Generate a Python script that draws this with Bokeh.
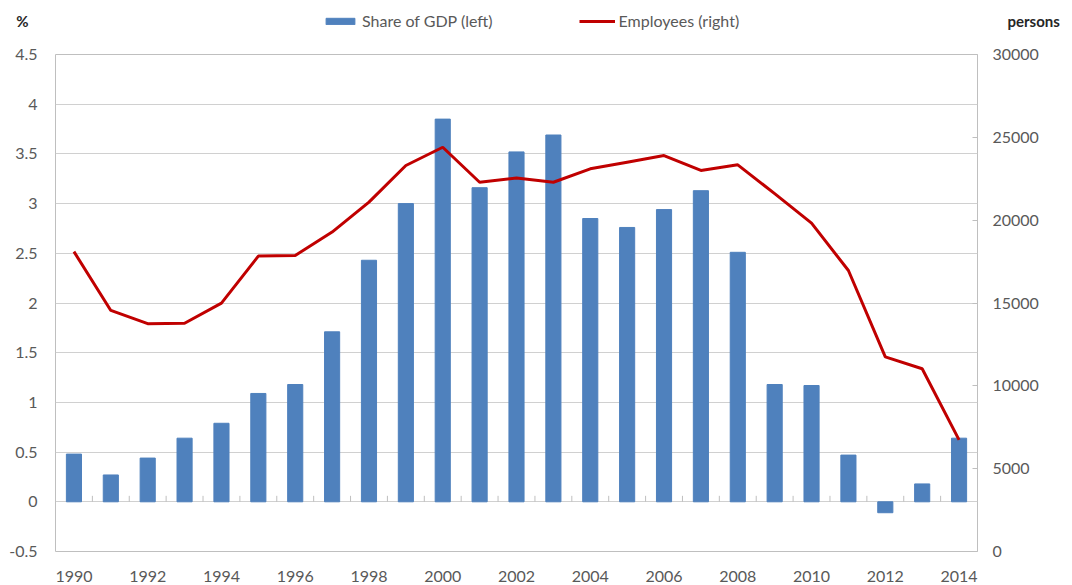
from bokeh.plotting import figure
from bokeh.layouts import column
from bokeh.models import (Range1d, LinearAxis, FixedTicker, NumeralTickFormatter,
                          Legend, LegendItem, ColumnDataSource)
from bokeh.embed import file_html
from bokeh.resources import INLINE

years = list(range(1990, 2015))
share_gdp = [0.48, 0.27, 0.44, 0.64, 0.79, 1.09, 1.18, 1.71, 2.43, 3.00,
             3.85, 3.16, 3.52, 3.69, 2.85, 2.76, 2.94, 3.13, 2.51, 1.18,
             1.17, 0.47, -0.11, 0.18, 0.64]
employees = [18100, 14550, 13750, 13780, 14990, 17830, 17870, 19280, 21090, 23300,
             24400, 22290, 22540, 22290, 23100, 23500, 23900, 23000, 23340, 21600,
             19820, 16960, 11750, 11030, 6740]
left_ticks = [-0.5, 0, 0.5, 1, 1.5, 2, 2.5, 3, 3.5, 4, 4.5]
right_ticks = [0, 5000, 10000, 15000, 20000, 25000, 30000]
year_ticks = list(range(1990, 2015, 2))

FONT = "Lato"
TXT = "#595959"
BLUE = "#4F81BD"
RED = "#C00000"
W = 1072
HEAD_H = 40
FL, FR = 55, 95   # frame borders left/right

# ---------------- header (legend + unit labels) ----------------
h = figure(width=W, height=HEAD_H, output_backend="svg", toolbar_location=None,
           x_range=Range1d(0, 1), y_range=Range1d(0, 1),
           x_axis_type=None, y_axis_type=None,
           min_border_left=FL, min_border_right=FR, min_border_top=0, min_border_bottom=0)
h.outline_line_color = None
h.grid.grid_line_color = None
dummy = ColumnDataSource(dict(x=[-10, -11], y=[-10, -11]))
lb = h.vbar(x="x", top="y", width=1, source=dummy, fill_color=BLUE, line_color=BLUE)
ll = h.line(x="x", y="y", source=dummy, line_color=RED, line_width=3)
legend = Legend(items=[LegendItem(label="Share of GDP (left)", renderers=[lb]),
                       LegendItem(label="Employees (right)", renderers=[ll])],
                orientation="horizontal", location=(322 - FL, 10),
                glyph_width=36, glyph_height=8, label_standoff=4, spacing=86,
                padding=0, margin=0, border_line_color=None,
                background_fill_alpha=0, label_text_font=FONT,
                label_text_font_size="16px", label_text_color=TXT)
h.add_layout(legend, "center")


def unit_axis(label, standoff):
    ax = LinearAxis(ticker=FixedTicker(ticks=[]), axis_label=label,
                    axis_label_orientation="horizontal",
                    axis_label_standoff=standoff)
    ax.axis_line_color = None
    ax.major_tick_line_color = None
    ax.minor_tick_line_color = None
    ax.axis_label_text_font = FONT
    ax.axis_label_text_font_size = "15px"
    ax.axis_label_text_font_style = "bold"
    ax.axis_label_text_color = "#262626"
    return ax


h.add_layout(unit_axis("%", 27), "left")
h.add_layout(unit_axis("persons", 30), "right")

# ---------------- main chart ----------------
src = ColumnDataSource(dict(year=years, share=share_gdp, emp=employees,
                            x0=[y - 0.5 for y in years], zero=[0] * len(years),
                            tick=[0.06] * len(years)))

p = figure(width=W, height=585 - HEAD_H, output_backend="svg", toolbar_location=None,
           x_range=Range1d(1989.5, 2014.5), y_range=Range1d(-0.5, 4.5),
           min_border_left=FL, min_border_right=FR, min_border_top=14,
           min_border_bottom=34)
p.extra_y_ranges = {"right": Range1d(0, 30000)}

p.outline_line_color = "#bfbfbf"
p.outline_line_width = 1

p.xgrid.grid_line_color = None
p.ygrid.ticker = FixedTicker(ticks=left_ticks)
p.ygrid.grid_line_color = "#d0d0d0"
p.ygrid.grid_line_width = 1

bars = p.vbar(x="year", top="share", bottom=0, width=0.41, source=src,
              fill_color=BLUE, line_color=BLUE)
p.segment(x0="x0", y0="zero", x1="x0", y1="tick", source=src,
          line_color="#bfbfbf", line_width=1)
line = p.line(x="year", y="emp", y_range_name="right", source=src,
              line_color=RED, line_width=3)

for ax in [p.xaxis[0], p.yaxis[0]]:
    ax.axis_line_color = None
    ax.major_tick_line_color = None
    ax.minor_tick_line_color = None
    ax.major_label_text_font = FONT
    ax.major_label_text_font_size = "16px"
    ax.major_label_text_color = TXT

p.xaxis.ticker = FixedTicker(ticks=year_ticks)
p.xaxis.major_label_standoff = 13
p.yaxis.ticker = FixedTicker(ticks=left_ticks)
p.yaxis.formatter = NumeralTickFormatter(format="0.[0]")
p.yaxis.major_label_standoff = 12

ra = LinearAxis(y_range_name="right", ticker=FixedTicker(ticks=right_ticks))
ra.axis_line_color = None
ra.major_tick_line_color = "#bfbfbf"
ra.major_tick_in = 5
ra.major_tick_out = 0
ra.minor_tick_line_color = None
ra.major_label_text_font = FONT
ra.major_label_text_font_size = "16px"
ra.major_label_text_color = TXT
ra.major_label_standoff = 15
p.add_layout(ra, "right")

layout = column(h, p, spacing=0)
open("out.html", "w").write(file_html(layout, INLINE))
